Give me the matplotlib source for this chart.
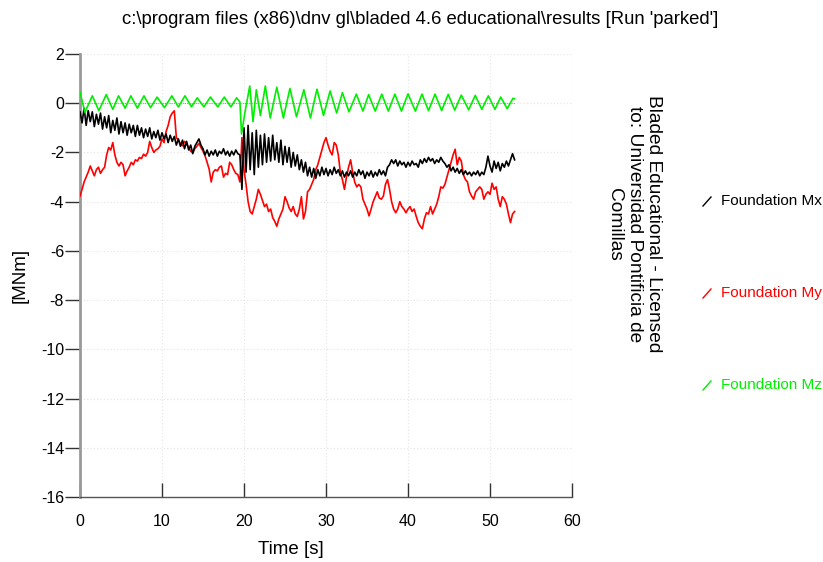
import numpy as np
import matplotlib
matplotlib.use("Agg")
import matplotlib.pyplot as plt
from matplotlib.lines import Line2D

plt.rcParams['font.family'] = ['Liberation Sans', 'DejaVu Sans']
plt.rcParams['axes.unicode_minus'] = False

TITLE = "c:\\program files (x86)\\dnv gl\\bladed 4.6 educational\\results [Run 'parked']"
WATERMARK = "Bladed Educational - Licensed\nto: Universidad Pontificia de\nComillas"
X_LABEL = "Time [s]"
Y_LABEL = "[MNm]"
SERIES_NAMES = ["Foundation Mx", "Foundation My", "Foundation Mz"]
SERIES_COLORS = ["#000000", "#ff0000", "#00ee00"]

x_ticks = [0, 10, 20, 30, 40, 50, 60]
y_ticks = [2, 0, -2, -4, -6, -8, -10, -12, -14, -16]

# sample step of the Mx / My channels [s]
dt = 0.25

# Foundation Mx [MNm], sampled every dt seconds from t = 0
mx = [
    -0.35, -0.8, -0.2, -0.9, -0.3, -0.75, -0.35, -0.95,
    -0.45, -0.85, -0.4, -1.05, -0.55, -1.0, -0.5, -1.2,
    -0.7, -1.1, -0.6, -1.25, -0.75, -1.2, -0.8, -1.3,
    -0.85, -1.2, -0.9, -1.35, -0.9, -1.3, -1.0, -1.4,
    -1.05, -1.35, -1.0, -1.45, -1.15, -1.4, -1.1, -1.5,
    -1.2, -1.45, -1.25, -1.6, -1.3, -1.55, -1.35, -1.7,
    -1.45, -1.75, -1.5, -1.85, -1.55, -1.9, -1.7, -2.05,
    -1.75, -1.6, -1.45, -1.7, -1.85, -2.1, -1.9, -2.15,
    -1.95, -2.1, -1.9, -2.15, -1.95, -2.05, -1.85, -2.1,
    -1.95, -2.15, -1.95, -2.1, -1.9, -2.05, -2.1, -3.5,
    -1.0, -2.8, -0.9, -2.7, -1.2, -2.9, -1.1, -2.6,
    -1.3, -2.5, -1.25, -2.4, -1.4, -2.35, -1.3, -2.3,
    -1.6, -2.4, -1.5, -2.5, -1.75, -2.4, -1.8, -2.6,
    -2.0, -2.55, -2.1, -2.7, -2.3, -2.8, -2.4, -2.95,
    -2.6, -3.0, -2.65, -3.05, -2.7, -2.95, -2.6, -2.9,
    -2.65, -2.95, -2.7, -2.9, -2.6, -2.85, -2.7, -2.95,
    -2.75, -3.0, -2.8, -2.95, -2.75, -3.0, -2.8, -2.95,
    -2.7, -2.9, -2.75, -3.05, -2.8, -2.95, -2.75, -3.0,
    -2.8, -2.95, -2.7, -2.9, -2.75, -2.95, -2.6, -2.5,
    -2.3, -2.45, -2.3, -2.55, -2.35, -2.5, -2.4, -2.6,
    -2.4, -2.55, -2.35, -2.5, -2.45, -2.6, -2.3, -2.45,
    -2.25, -2.4, -2.2, -2.35, -2.25, -2.45, -2.3, -2.4,
    -2.2, -2.35, -2.45, -2.6, -2.5, -2.75, -2.6, -2.8,
    -2.65, -2.85, -2.7, -2.9, -2.75, -2.9, -2.8, -2.95,
    -2.8, -2.9, -2.75, -2.95, -2.8, -2.9, -2.6, -2.15,
    -2.55, -2.8, -2.35, -2.65, -2.4, -2.75, -2.45, -2.6,
    -2.35, -2.55, -2.3, -2.05, -2.3,
]

# Foundation My [MNm], sampled every dt seconds from t = 0
my = [
    -3.77, -3.5, -3.2, -3.0, -2.8, -2.55, -2.75, -2.95,
    -2.7, -2.6, -2.85, -2.7, -2.6, -2.1, -1.8, -1.9,
    -1.6, -2.1, -2.4, -2.55, -2.4, -2.5, -2.95, -2.75,
    -2.6, -2.4, -2.5, -2.3, -2.35, -2.2, -2.25, -2.07,
    -2.15, -2.0, -1.55, -1.8, -2.0, -1.9, -1.85, -1.75,
    -1.45, -1.6, -1.15, -0.9, -0.55, -0.4, -0.31, -1.4,
    -1.5, -1.65, -1.73, -1.55, -1.65, -1.8, -1.95, -2.0,
    -1.85, -1.75, -1.63, -1.8, -1.95, -2.14, -2.4, -2.68,
    -3.2, -2.8, -2.7, -2.75, -2.6, -2.55, -3.0, -2.85,
    -2.9, -2.4, -2.5, -2.7, -2.85, -2.9, -3.2, -1.4,
    -2.7, -3.3, -4.0, -4.4, -4.5, -4.2, -3.9, -3.5,
    -3.7, -3.95, -4.2, -4.1, -4.4, -4.3, -4.65, -4.8,
    -5.0, -4.7, -4.5, -4.3, -3.8, -4.0, -4.25, -4.4,
    -4.2, -4.5, -4.6, -4.3, -3.8, -4.7, -4.4, -3.6,
    -3.5, -3.3, -3.1, -2.7, -2.5, -2.2, -1.9, -1.6,
    -1.4, -1.7, -1.95, -2.1, -1.6, -1.7, -2.1, -2.8,
    -3.1, -3.5, -3.0, -2.6, -2.3, -2.8, -3.2, -3.4,
    -3.3, -3.4, -3.9, -4.1, -4.3, -4.58, -4.3, -4.0,
    -3.8, -3.6, -3.85, -3.9, -3.77, -3.3, -3.1, -3.5,
    -4.0, -4.3, -4.45, -4.3, -4.0, -4.2, -4.3, -4.45,
    -4.3, -4.2, -4.4, -4.3, -4.6, -4.85, -5.0, -5.1,
    -4.7, -4.45, -4.5, -4.2, -4.5, -4.3, -4.1, -3.8,
    -3.4, -3.45, -3.3, -3.0, -2.7, -2.4, -2.1, -1.87,
    -2.5, -2.2, -2.35, -2.9, -3.1, -3.2, -3.6, -3.77,
    -3.9, -3.6, -3.5, -3.4, -3.5, -3.9, -3.7, -3.6,
    -3.7, -3.25, -3.5, -3.4, -3.9, -4.2, -3.8, -3.9,
    -4.1, -4.5, -4.85, -4.5, -4.4,
]

# Foundation Mz [MNm]: turning points of the yaw moment oscillation
mz_time = [
    0.0, 0.6, 1.5, 2.3, 3.2, 4.0, 4.7, 5.5, 6.2, 7.0, 7.8, 8.6, 9.4, 10.3,
    11.2, 12.0, 12.8, 13.6, 14.3, 15.1, 15.9, 16.8, 17.6, 18.4, 19.1, 19.5,
    19.7, 20.1, 20.7, 21.1, 21.5, 22.0, 22.6, 23.2, 24.0, 24.8, 25.6, 26.4,
    27.3, 28.1, 28.9, 29.7, 30.5, 31.3, 32.0, 32.8, 33.7, 34.5, 35.2, 36.0,
    36.8, 37.6, 38.4, 39.2, 40.0, 40.9, 41.7, 42.5, 43.3, 44.1, 44.9, 45.7,
    46.5, 47.4, 48.2, 49.0, 49.8, 50.6, 51.3, 52.1, 52.8, 53.0,
]
mz = [
    0.45, -0.37, 0.3, -0.3, 0.35, -0.25, 0.3, -0.2, 0.3, -0.2, 0.3, -0.18,
    0.25, -0.18, 0.3, -0.15, 0.3, -0.15, 0.22, -0.15, 0.25, -0.15, 0.25,
    -0.15, 0.22, 0.05, -1.25, -0.4, 0.7, -0.75, 0.55, -0.5, 0.7, -0.6, 0.65,
    -0.6, 0.6, -0.55, 0.55, -0.6, 0.57, -0.5, 0.5, -0.4, 0.43, -0.35, 0.37,
    -0.32, 0.35, -0.32, 0.37, -0.32, 0.37, -0.32, 0.38, -0.32, 0.37, -0.3,
    0.37, -0.3, 0.36, -0.28, 0.33, -0.27, 0.32, -0.25, 0.3, -0.25, 0.25,
    -0.22, 0.2, 0.18,
]

t_mx = np.arange(len(mx)) * dt
t_my = np.arange(len(my)) * dt

W, H = 823, 562
fig = plt.figure(figsize=(W / 100, H / 100), dpi=100)
ax = fig.add_axes([80 / W, 1 - 497 / H, 492 / W, 443 / H])

ax.set_xlim(x_ticks[0], x_ticks[-1])
ax.set_ylim(y_ticks[-1], y_ticks[0])
ax.set_xticks(x_ticks)
ax.set_yticks(y_ticks)
ax.tick_params(axis='y', direction='out', length=11, width=1, color='#333333',
               labelsize=11.5, pad=0.5)
ax.tick_params(axis='x', direction='in', length=10, width=1, color='#333333',
               labelsize=11.5, pad=12)
for side in ('top', 'right'):
    ax.spines[side].set_visible(False)
ax.spines['left'].set_color('#999999')
ax.spines['left'].set_linewidth(2)
ax.spines['bottom'].set_color('#555555')
ax.spines['bottom'].set_linewidth(1)
ax.grid(True, color='#e4e4e4', linestyle=(0, (1, 2)), linewidth=0.8)
ax.set_axisbelow(True)

# zero reference over the simulated time span
ax.hlines(0, t_mx[0], t_mx[-1], colors='#999999', linestyles=(0, (1, 1)),
          linewidth=0.8, zorder=1)

ax.plot(t_my, my, color=SERIES_COLORS[1], linewidth=1.2, zorder=3)
ax.plot(t_mx, mx, color=SERIES_COLORS[0], linewidth=1.2, zorder=4)
ax.plot(mz_time, mz, color=SERIES_COLORS[2], linewidth=1.2, zorder=5)

ax.set_xlabel(X_LABEL, fontsize=13.5)
ax.xaxis.set_label_coords(0.429, -0.1)
ax.set_ylabel(Y_LABEL, fontsize=13.5)
ax.yaxis.set_label_coords(-0.104, 0.5)

fig.text(420 / W, 1 - 20 / H, TITLE, ha='center', va='center', fontsize=13.3)
fig.text(634 / W, 1 - 224 / H, WATERMARK, ha='center', va='center',
         rotation=-90, fontsize=13.8, multialignment='center', linespacing=1.22)

# legend: slanted stroke followed by the channel name
legend_y = [201, 293, 385]
for name, color, yy in zip(SERIES_NAMES, SERIES_COLORS, legend_y):
    fig.add_artist(Line2D([703 / W, 711 / W], [1 - (yy + 5) / H, 1 - (yy - 4) / H],
                          color=color, linewidth=1.0))
    fig.text(721 / W, 1 - yy / H, name, ha='left', va='center', fontsize=11,
             color=color)

fig.savefig("out.png", dpi=100)
